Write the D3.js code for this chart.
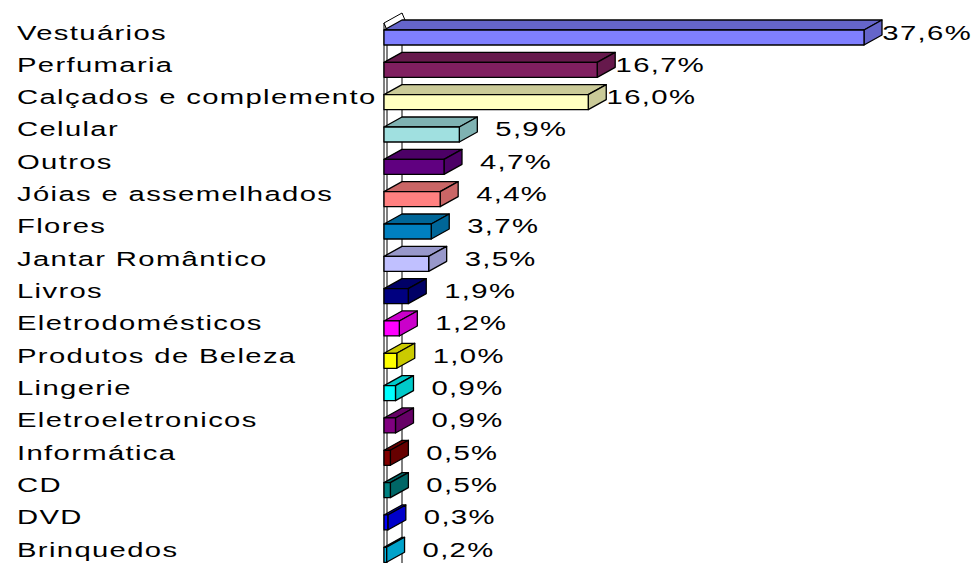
<!DOCTYPE html>
<html>
<head>
<meta charset="utf-8">
<script src="https://cdn.jsdelivr.net/npm/d3@7"></script>
<style>
  body { margin: 0; background: #fff; }
  text { font-family: Arial, "Liberation Sans", sans-serif; font-size: 19.5px; fill: #000; letter-spacing: 0.9px; }
</style>
</head>
<body>
<div id="chart"></div>
<script>
// Categories (top to bottom) and shares in %
const categories = [
  "Vestuários", "Perfumaria", "Calçados e complemento", "Celular", "Outros",
  "Jóias e assemelhados", "Flores", "Jantar Romântico", "Livros",
  "Eletrodomésticos", "Produtos de Beleza", "Lingerie", "Eletroeletronicos",
  "Informática", "CD", "DVD", "Brinquedos"
];
const values = [37.6, 16.7, 16.0, 5.9, 4.7, 4.4, 3.7, 3.5, 1.9, 1.2, 1.0, 0.9, 0.9, 0.5, 0.5, 0.3, 0.2];
const valueLabels = ["37,6%", "16,7%", "16,0%", "5,9%", "4,7%", "4,4%", "3,7%", "3,5%", "1,9%",
  "1,2%", "1,0%", "0,9%", "0,9%", "0,5%", "0,5%", "0,3%", "0,2%"];
// front face colours per bar
const colors = [
  "#7f7fff", "#801f60", "#ffffc0", "#a0e0e0", "#600080", "#ff8080", "#0080c0", "#c0c0ff",
  "#000080", "#ff00ff", "#ffff00", "#00ffff", "#800080", "#800000", "#008080", "#0000ff", "#00ccff"
];

const width = 974;
const height = 563;
const depthX = 18;   // 3D offset
const depthY = 10;
const barH = 15;     // front face height
const textScale = 1.5; // labels are drawn wide

const data = categories.map((c, i) => ({ name: c, value: values[i], label: valueLabels[i], color: colors[i] }));

const svg = d3.select("#chart")
  .append("svg")
  .attr("width", width)
  .attr("height", height);

const x = d3.scaleLinear().domain([0, 37.6]).range([384, 864]);
const y = d3.scaleBand().domain(categories).range([20, 20 + 17 * 32.33]);

// Left wall
const x0 = x(0);
const wt = y(categories[0]) + 3;
const wall = svg.append("g").attr("fill", "#fff").attr("stroke", "#000").attr("stroke-width", 1);
wall.append("path")
  .attr("d", `M${x0 + depthX},${wt - depthY} L${x0 + depthX},${height + 5}`);
wall.append("path")
  .attr("d", `M${x0},${wt} L${x0 + 3},${wt + 7} L${x0 + 3},${height + 5} L${x0},${height + 5} Z`);
wall.append("path")
  .attr("d", `M${x0},${wt} L${x0 + depthX},${wt - depthY} L${x0 + depthX + 3},${wt - depthY + 7} L${x0 + 3},${wt + 7} Z`);

// Bars
const bars = svg.selectAll("g.bar")
  .data(data)
  .enter()
  .append("g")
  .attr("class", "bar")
  .attr("stroke", "#000")
  .attr("stroke-width", 1.3)
  .attr("stroke-linejoin", "round");

bars.each(function(d) {
  const g = d3.select(this);
  const xl = x0;
  const xr = x(d.value);
  const yt = y(d.name) + depthY;
  const yb = yt + barH;
  const dark = d3.rgb(d.color).darker(0.65).formatHex();
  // top face
  g.append("path")
    .attr("fill", dark)
    .attr("d", `M${xl},${yt} L${xl + depthX},${yt - depthY} L${xr + depthX},${yt - depthY} L${xr},${yt} Z`);
  // side face
  g.append("path")
    .attr("fill", dark)
    .attr("d", `M${xr},${yt} L${xr + depthX},${yt - depthY} L${xr + depthX},${yb - depthY} L${xr},${yb} Z`);
  // front face
  g.append("rect")
    .attr("x", xl)
    .attr("y", yt)
    .attr("width", Math.max(0, xr - xl))
    .attr("height", barH)
    .attr("fill", d.color);
});

// Category labels
svg.selectAll("text.cat")
  .data(data)
  .enter()
  .append("text")
  .attr("class", "cat")
  .attr("transform", d => `translate(17,${y(d.name) + 12.5 + 7}) scale(${textScale},1)`)
  .text(d => d.name);

// Value labels
svg.selectAll("text.val")
  .data(data)
  .enter()
  .append("text")
  .attr("class", "val")
  .attr("text-anchor", "end")
  .attr("transform", d => `translate(${x(d.value) + 108},${y(d.name) + 12.5 + 7}) scale(${textScale},1)`)
  .text(d => d.label);
</script>
</body>
</html>
